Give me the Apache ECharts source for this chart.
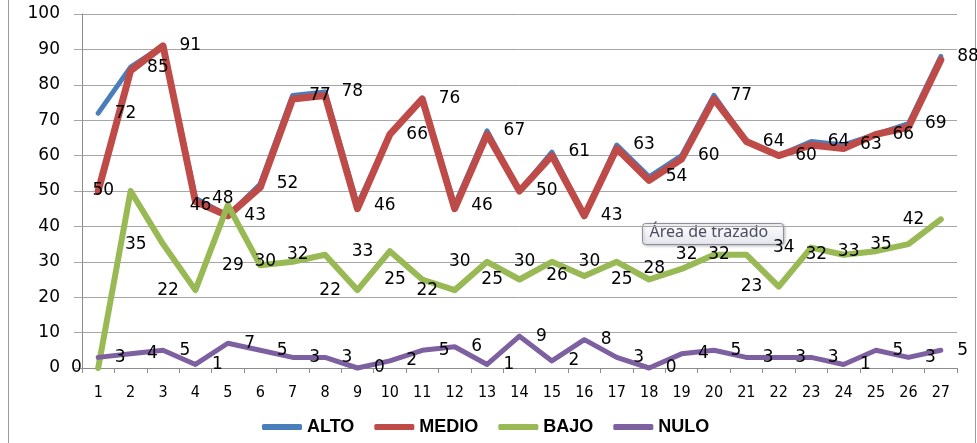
<!DOCTYPE html>
<html>
<head>
<meta charset="utf-8">
<script src="https://cdn.jsdelivr.net/npm/echarts@6/dist/echarts.min.js"></script>
<style>
html,body{margin:0;padding:0;background:#fff;}
#chart{width:977px;height:443px;}
</style>
</head>
<body>
<div id="chart"></div>
<script>
var categories = ['1','2','3','4','5','6','7','8','9','10','11','12','13','14','15','16','17','18','19','20','21','22','23','24','25','26','27'];
var alto  = [72,85,91,48,43,52,77,78,46,66,76,46,67,50,61,43,63,54,60,77,64,60,64,63,66,69,88];
var medio = [50,84,91,47,43,51,76,77,45,66,76,45,66,50,60,43,62,53,59,76,64,60,63,62,66,68,87];
var bajo  = [0,50,35,22,46,29,30,32,22,33,25,22,30,25,30,26,30,25,28,32,32,23,34,32,33,35,42];
var nulo  = [3,4,5,1,7,5,3,3,0,2,5,6,1,9,2,8,3,0,4,5,3,3,3,1,5,3,5];
var yTicks = {min:0, max:100, interval:10};

var labelFont = {fontFamily:'DejaVu Sans', fontSize:17, color:'#000'};

function lineSeries(name, data, color, width, labelPos) {
  var s = {
    name: name, type: 'line', data: data,
    symbol: 'circle', symbolSize: 1, showSymbol: true,
    itemStyle: {color: color},
    lineStyle: {color: color, width: width, cap: 'round', join: 'round'},
    clip: false,
    animation: false,
    label: {show: false}
  };
  if (labelPos) {
    s.label = Object.assign({show: true, position: labelPos, distance: 16}, labelFont);
  }
  return s;
}

var chart = echarts.init(document.getElementById('chart'), null, {renderer: 'canvas'});
chart.setOption({
  backgroundColor: '#fff',
  animation: false,
  grid: {left: 82, right: 20, top: 14, bottom: 75, containLabel: false},
  xAxis: {
    type: 'category', data: categories, boundaryGap: true,
    axisLine: {lineStyle: {color: '#8c8c8c', width: 1}},
    axisTick: {show: true, length: 5, lineStyle: {color: '#8c8c8c'}},
    axisLabel: {margin: 17, fontFamily: 'Liberation Sans Narrow, DejaVu Sans Condensed, sans-serif', fontSize: 16, color: '#000'},
    splitLine: {show: false}
  },
  yAxis: {
    type: 'value', min: yTicks.min, max: yTicks.max, interval: yTicks.interval,
    axisLine: {show: true, lineStyle: {color: '#8c8c8c', width: 1}},
    axisTick: {show: true, length: 8, lineStyle: {color: '#a6a6a6'}},
    axisLabel: {margin: 22, fontFamily: 'DejaVu Sans', fontSize: 17, color: '#000'},
    splitLine: {show: true, lineStyle: {color: '#a6a6a6', width: 1}}
  },
  legend: {
    left: 257, top: 413,
    icon: 'roundRect', itemWidth: 40, itemHeight: 6, itemGap: 20,
    textStyle: {fontFamily: 'Liberation Sans', fontWeight: 'bold', fontSize: 18, color: '#000'},
    data: ['ALTO','MEDIO','BAJO','NULO']
  },
  series: [
    lineSeries('ALTO', alto, '#4A7EBB', 5, 'right'),
    lineSeries('MEDIO', medio, '#BE4B48', 7, null),
    lineSeries('BAJO', bajo, '#98B954', 6, 'left'),
    lineSeries('NULO', nulo, '#7D60A0', 5, 'right')
  ],
  graphic: [
    {type: 'line', shape: {x1: 8.5, y1: 0, x2: 8.5, y2: 443}, style: {stroke: '#9a9a9a', lineWidth: 1}, silent: true},
    {type: 'line', shape: {x1: 975.5, y1: 0, x2: 975.5, y2: 443}, style: {stroke: '#9a9a9a', lineWidth: 1}, silent: true},
    {
      type: 'group', left: 642, top: 223, z: 100,
      children: [
        {type: 'rect', shape: {x: 0, y: 0, width: 141, height: 21, r: 3},
          style: {fill: new echarts.graphic.LinearGradient(0,0,0,1,[{offset:0,color:'#ffffff'},{offset:1,color:'#e4e5ee'}]),
                  stroke: '#8e8f99', lineWidth: 1, shadowBlur: 3, shadowColor: 'rgba(0,0,0,0.25)', shadowOffsetX: 1, shadowOffsetY: 1}},
        {type: 'text', x: 7, y: 1, style: {text: 'Área de trazado', fill: '#4c4c60', font: '16px "Noto Sans", sans-serif'}}
      ]
    }
  ]
});
</script>
</body>
</html>
